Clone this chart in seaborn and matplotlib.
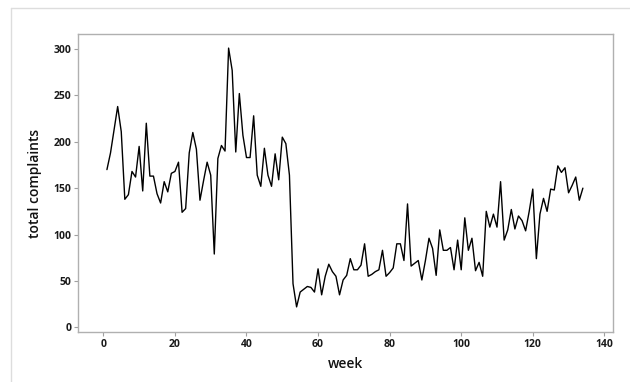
import matplotlib.pyplot as plt
import numpy as np
import pandas as pd
import seaborn as sns
from matplotlib.lines import Line2D

weeks = list(range(1, 135))
complaints = [
    170, 188, 213, 238, 211, 138, 143, 168, 162, 195,
    147, 220, 163, 163, 144, 134, 157, 146, 166, 168,
    178, 124, 128, 188, 210, 192, 137, 158, 178, 164,
    79, 182, 196, 190, 301, 277, 189, 252, 207, 183,
    183, 228, 164, 152, 193, 164, 152, 187, 159, 205,
    198, 164, 47, 22, 38, 41, 44, 43, 38, 63,
    35, 55, 68, 60, 55, 35, 51, 56, 74, 62,
    62, 67, 90, 55, 57, 60, 62, 83, 55, 59,
    64, 90, 90, 72, 133, 66, 69, 72, 51, 72,
    96, 85, 56, 105, 83, 83, 86, 62, 94, 62,
    118, 83, 96, 61, 70, 55, 125, 108, 122, 108,
    157, 94, 105, 127, 106, 120, 115, 104, 125, 149,
    74, 122, 139, 125, 149, 148, 174, 167, 172, 145,
    153, 162, 137, 150,
]
x_ticks = [0, 20, 40, 60, 80, 100, 120, 140]
y_ticks = [0, 50, 100, 150, 200, 250, 300]

df = pd.DataFrame({"week": weeks, "total complaints": complaints})

sns.set_theme(style="white")
plt.rcParams["font.family"] = ["Open Sans", "DejaVu Sans"]

fig = plt.figure(figsize=(6.3, 3.82), dpi=100)
ax = fig.add_axes([78.3 / 630, 1 - 332.3 / 382, (613.3 - 78.3) / 630, (332.3 - 34) / 382])

sns.lineplot(data=df, x="week", y="total complaints", color="black", linewidth=1.0, ax=ax)

ax.set_xlim(-7.0, 142.5)
ax.set_ylim(-5.4, 316.2)
ax.set_xticks(x_ticks)
ax.set_yticks(y_ticks)
ax.tick_params(axis="both", bottom=True, left=True, length=3, width=0.8, color="#a0a0a0",
               labelsize=7.5, labelcolor="#1a1a1a", pad=2)
for lab in ax.get_xticklabels() + ax.get_yticklabels():
    lab.set_fontweight("bold")
for s in ax.spines.values():
    s.set_color("#b0b0b0")
    s.set_linewidth(1.0)

ax.set_xlabel("week", fontsize=10, color="#111111", labelpad=5, fontweight="semibold")
ax.set_ylabel("total complaints", fontsize=10, color="#111111", labelpad=8, fontweight="semibold")

# light frame around the chart panel
fig.add_artist(Line2D([10.5 / 630, 10.5 / 630], [0, 1 - 8 / 382], transform=fig.transFigure,
                      color="#dddddd", linewidth=1.0))
fig.add_artist(Line2D([10.5 / 630, 1], [1 - 8 / 382, 1 - 8 / 382], transform=fig.transFigure,
                      color="#dddddd", linewidth=1.0))

fig.savefig("out.png", dpi=100)
plt.close(fig)
